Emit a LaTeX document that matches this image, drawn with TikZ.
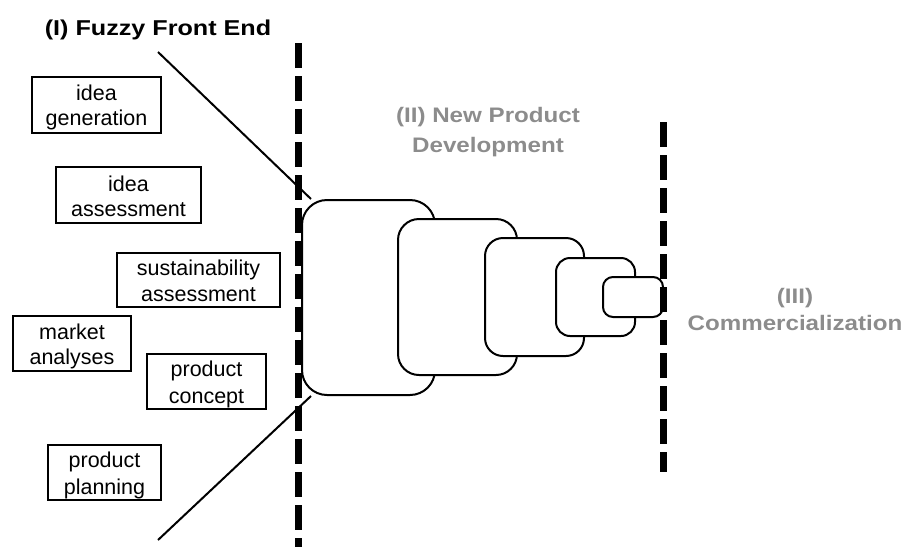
\documentclass[tikz,border=0pt]{standalone}
\usepackage{fontspec}
\setmainfont{Liberation Sans}
\usepackage{graphicx}
\definecolor{phasegray}{RGB}{140,140,140}
\newcommand\lblstrut{\rule[-4pt]{0pt}{25pt}}
\newcommand\npdstrut{\rule[-8pt]{0pt}{30pt}}
\newcommand\comstrut{\rule[-7pt]{0pt}{27pt}}
\newcommand\widebold[1]{\scalebox{1.15}[1]{\bfseries #1}}
\tikzset{
  lbl/.style={draw, line width=1.5pt, rectangle, inner sep=0pt, align=center,
    font=\fontsize{21.5}{25}\selectfont},
  stage/.style={draw, line width=2pt, fill=white, inner sep=0pt},
  phase/.style={align=center, text=phasegray, inner sep=0pt},
  gate/.style={line width=7pt, dash pattern=on 25pt off 8pt},
  funnel/.style={line width=2pt}
}
\begin{document}
\begin{tikzpicture}[x=1pt,y=-1pt]
\useasboundingbox (0,0) rectangle (908,547);
% titles
\node[anchor=base, inner sep=0pt, font=\fontsize{21.5}{25}\selectfont] (ffe) at (158,35) {\scalebox{1.17}[1]{\bfseries (I) Fuzzy Front End}};
\node[phase, font=\fontsize{21}{30}\selectfont] (npd) at (488,130) {\widebold{(II) New Product}\npdstrut\\\widebold{Development}\npdstrut};
\node[phase, font=\fontsize{21}{27}\selectfont] (com) at (795,310) {\widebold{(III)}\comstrut\\\widebold{Commercialization}\comstrut};
% activity boxes
\node[lbl, minimum width=129pt, minimum height=56pt] (gen) at (96.5,105) {idea\lblstrut\\generation\lblstrut};
\node[lbl, minimum width=145pt, minimum height=56pt] (ass) at (128.5,195) {idea\lblstrut\\assessment\lblstrut};
\node[lbl, minimum width=163pt, minimum height=54pt] (sus) at (198.5,280) {sustainability\lblstrut\\assessment\lblstrut};
\node[lbl, minimum width=118pt, minimum height=55pt] (mkt) at (72,343.5) {market\lblstrut\\analyses\lblstrut};
\node[lbl, minimum width=119pt, minimum height=55pt] (con) at (206.5,381.5) {product\lblstrut\\concept\lblstrut};
\node[lbl, minimum width=113pt, minimum height=55pt] (pla) at (104.5,472.5) {product\lblstrut\\planning\lblstrut};
% funnel stages
\node[stage, rounded corners=25pt, minimum width=133pt, minimum height=195pt] (s1) at (368.5,297.5) {};
\node[stage, rounded corners=21pt, minimum width=119pt, minimum height=156pt] (s2) at (457.5,297) {};
\node[stage, rounded corners=18pt, minimum width=99pt, minimum height=118pt] (s3) at (534.5,297) {};
\node[stage, rounded corners=14pt, minimum width=79pt, minimum height=78pt] (s4) at (595.5,297) {};
\node[stage, rounded corners=10pt, minimum width=60pt, minimum height=40pt] (s5) at (633,297) {};
% funnel lines
\coordinate (ftop) at (158,52);
\coordinate (fbot) at (158,540);
\draw[funnel] (ftop) -- ([xshift=10pt]s1.north west);
\draw[funnel] (fbot) -- ([xshift=10pt]s1.south west);
% gates
\coordinate (g1a) at (298.5,43);
\coordinate (g1b) at (298.5,547);
\coordinate (g2a) at (663,122);
\coordinate (g2b) at (663,472);
\draw[gate] (g1a) -- (g1b);
\draw[gate] (g2a) -- (g2b);
\end{tikzpicture}
\end{document}
